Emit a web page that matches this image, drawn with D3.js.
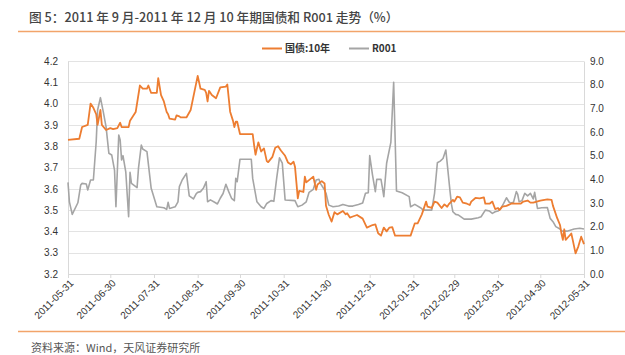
<!DOCTYPE html>
<html><head><meta charset="utf-8">
<script src="https://cdn.jsdelivr.net/npm/d3@7/dist/d3.min.js"></script>
<style>
html,body{margin:0;padding:0;background:#fff;}
svg{display:block;font-family:"Noto Sans CJK SC","Noto Sans",sans-serif;}
</style></head><body>
<svg id="c" width="625" height="355"></svg>
<script>
const titleText = "图 5：2011 年 9 月-2011 年 12 月 10 年期国债和 R001 走势（%）";
const sourceText = "资料来源：Wind，天风证券研究所";
const seriesNames = ["国债:10年", "R001"];
const xTickLabels = ["2011-05-31","2011-06-30","2011-07-31","2011-08-31","2011-09-30","2011-10-31","2011-11-30","2011-12-31","2012-01-31","2012-02-29","2012-03-31","2012-04-30","2012-05-31"];
const leftTicks = [3.2,3.3,3.4,3.5,3.6,3.7,3.8,3.9,4.0,4.1,4.2];
const rightTicks = [0,1,2,3,4,5,6,7,8,9];

const bondDates = ["2011-05-31","2011-06-08","2011-06-10","2011-06-14","2011-06-16","2011-06-18","2011-06-20","2011-06-21","2011-06-23","2011-06-24","2011-06-27","2011-06-30","2011-07-02","2011-07-05","2011-07-07","2011-07-08","2011-07-13","2011-07-14","2011-07-18","2011-07-21","2011-07-23","2011-07-26","2011-07-27","2011-07-29","2011-08-02","2011-08-03","2011-08-05","2011-08-07","2011-08-09","2011-08-10","2011-08-11","2011-08-15","2011-08-16","2011-08-18","2011-08-19","2011-08-23","2011-08-26","2011-08-31","2011-09-02","2011-09-05","2011-09-06","2011-09-07","2011-09-08","2011-09-10","2011-09-13","2011-09-16","2011-09-20","2011-09-21","2011-09-23","2011-09-25","2011-09-26","2011-09-27","2011-09-28","2011-09-30","2011-10-09","2011-10-10","2011-10-11","2011-10-13","2011-10-15","2011-10-17","2011-10-19","2011-10-20","2011-10-23","2011-10-25","2011-10-27","2011-10-29","2011-11-01","2011-11-03","2011-11-05","2011-11-07","2011-11-08","2011-11-09","2011-11-10","2011-11-11","2011-11-14","2011-11-15","2011-11-16","2011-11-21","2011-11-23","2011-11-24","2011-11-27","2011-11-29","2011-11-30","2011-12-02","2011-12-04","2011-12-06","2011-12-08","2011-12-12","2011-12-14","2011-12-15","2011-12-17","2011-12-19","2011-12-22","2011-12-26","2011-12-29","2012-01-02","2012-01-04","2012-01-06","2012-01-08","2012-01-10","2012-01-12","2012-01-14","2012-01-16","2012-01-18","2012-01-29","2012-02-01","2012-02-03","2012-02-06","2012-02-07","2012-02-09","2012-02-10","2012-02-13","2012-02-15","2012-02-17","2012-02-20","2012-02-22","2012-02-24","2012-02-25","2012-02-28","2012-02-29","2012-03-02","2012-03-04","2012-03-06","2012-03-09","2012-03-11","2012-03-12","2012-03-15","2012-03-18","2012-03-21","2012-03-22","2012-03-25","2012-03-27","2012-03-29","2012-03-31","2012-04-01","2012-04-03","2012-04-06","2012-04-10","2012-04-12","2012-04-16","2012-04-18","2012-04-21","2012-04-23","2012-04-25","2012-04-30","2012-05-05","2012-05-08","2012-05-09","2012-05-12","2012-05-14","2012-05-15","2012-05-16","2012-05-17","2012-05-18","2012-05-20","2012-05-22","2012-05-23","2012-05-25","2012-05-27","2012-05-29","2012-05-31"];
const bondValues = [3.83,3.835,3.89,3.90,4.00,3.98,3.95,3.90,3.97,3.90,3.876,3.885,3.88,3.885,3.91,3.89,3.89,3.92,3.96,4.085,4.07,4.07,4.085,4.05,4.05,4.12,4.04,4.01,3.96,3.95,3.93,3.925,3.945,3.94,3.935,3.935,3.97,4.13,4.07,4.065,4.05,4.01,4.06,4.04,4.025,4.076,4.08,4.09,3.962,3.92,3.89,3.915,3.915,3.857,3.857,3.805,3.76,3.818,3.775,3.79,3.73,3.725,3.75,3.793,3.80,3.78,3.755,3.724,3.715,3.727,3.704,3.63,3.555,3.59,3.585,3.657,3.63,3.657,3.595,3.62,3.636,3.625,3.52,3.477,3.446,3.49,3.48,3.496,3.48,3.485,3.465,3.47,3.477,3.46,3.418,3.43,3.433,3.391,3.38,3.418,3.40,3.418,3.42,3.38,3.38,3.438,3.438,3.48,3.50,3.54,3.516,3.51,3.54,3.535,3.51,3.527,3.516,3.527,3.548,3.54,3.563,3.56,3.535,3.53,3.524,3.54,3.557,3.555,3.56,3.53,3.53,3.54,3.505,3.51,3.50,3.516,3.52,3.532,3.53,3.53,3.54,3.545,3.535,3.535,3.545,3.55,3.548,3.52,3.462,3.43,3.39,3.36,3.41,3.36,3.375,3.39,3.36,3.297,3.33,3.375,3.34];

const repoDates = ["2011-05-31","2011-06-01","2011-06-03","2011-06-07","2011-06-09","2011-06-10","2011-06-13","2011-06-14","2011-06-16","2011-06-18","2011-06-20","2011-06-21","2011-06-23","2011-06-25","2011-06-27","2011-06-29","2011-07-01","2011-07-03","2011-07-04","2011-07-06","2011-07-07","2011-07-08","2011-07-09","2011-07-11","2011-07-13","2011-07-14","2011-07-15","2011-07-19","2011-07-20","2011-07-22","2011-07-23","2011-07-26","2011-07-29","2011-08-02","2011-08-07","2011-08-09","2011-08-10","2011-08-11","2011-08-15","2011-08-17","2011-08-18","2011-08-20","2011-08-23","2011-08-25","2011-08-28","2011-08-30","2011-08-31","2011-09-02","2011-09-04","2011-09-06","2011-09-07","2011-09-09","2011-09-12","2011-09-14","2011-09-16","2011-09-18","2011-09-20","2011-09-22","2011-09-24","2011-09-26","2011-09-27","2011-09-28","2011-09-30","2011-10-08","2011-10-09","2011-10-12","2011-10-15","2011-10-17","2011-10-19","2011-10-22","2011-10-24","2011-10-26","2011-10-28","2011-10-30","2011-11-01","2011-11-08","2011-11-10","2011-11-13","2011-11-16","2011-11-18","2011-11-21","2011-11-23","2011-11-25","2011-11-26","2011-11-29","2011-11-30","2011-12-02","2011-12-05","2011-12-09","2011-12-12","2011-12-16","2011-12-19","2011-12-23","2011-12-26","2011-12-28","2011-12-30","2011-12-31","2012-01-02","2012-01-04","2012-01-05","2012-01-08","2012-01-09","2012-01-10","2012-01-12","2012-01-15","2012-01-17","2012-01-19","2012-01-23","2012-01-28","2012-01-29","2012-02-01","2012-02-05","2012-02-07","2012-02-13","2012-02-15","2012-02-17","2012-02-19","2012-02-21","2012-02-23","2012-02-26","2012-02-27","2012-02-28","2012-03-01","2012-03-03","2012-03-07","2012-03-12","2012-03-17","2012-03-19","2012-03-22","2012-03-25","2012-03-27","2012-03-29","2012-03-31","2012-04-02","2012-04-04","2012-04-06","2012-04-08","2012-04-09","2012-04-11","2012-04-13","2012-04-14","2012-04-15","2012-04-17","2012-04-19","2012-04-21","2012-04-23","2012-04-25","2012-04-26","2012-04-28","2012-05-01","2012-05-05","2012-05-07","2012-05-09","2012-05-11","2012-05-14","2012-05-15","2012-05-19","2012-05-24","2012-05-28","2012-05-31"];
const repoValues = [3.87,3.05,2.52,3.01,3.76,3.83,3.80,3.55,3.97,3.97,5.59,6.93,7.45,6.86,6.22,5.10,5.03,4.39,2.84,5.87,5.66,4.82,5.0,4.3,2.42,4.3,3.83,3.65,4.47,5.45,5.28,5.17,3.62,2.84,2.8,2.73,3.03,2.77,2.84,3.05,3.69,3.97,4.25,3.30,3.17,3.4,3.45,3.48,3.62,3.90,3.05,3.13,3.03,2.96,3.2,3.4,3.79,3.48,3.2,3.1,4.04,3.9,4.85,4.85,4.04,3.05,2.84,2.77,2.98,3.1,3.07,4.04,4.91,4.68,3.13,3.1,2.84,2.91,3.05,3.45,3.58,3.97,4.0,3.83,3.55,3.41,2.91,2.84,2.87,2.94,2.87,2.87,2.94,3.0,3.41,3.43,5.0,4.18,3.48,4.0,4.0,3.65,3.27,4.68,5.56,8.1,3.51,3.43,3.27,2.84,2.94,2.8,2.7,2.7,3.41,4.70,4.77,4.88,5.24,3.48,2.94,2.63,2.52,2.49,2.32,2.32,2.38,2.42,2.70,2.66,2.56,2.63,2.66,2.77,2.98,3.22,3.03,3.0,3.03,3.48,3.36,3.05,3.1,3.41,3.3,3.41,3.17,3.45,2.77,2.8,2.81,2.35,2.21,2.0,1.90,1.81,1.81,1.90,1.93,1.90];

const parse = d3.timeParse("%Y-%m-%d");
const bond = bondDates.map((d,i)=>({date:parse(d), v:bondValues[i]}));
const repo = repoDates.map((d,i)=>({date:parse(d), v:repoValues[i]}));

const W=625,H=355, m={l:68,r:41,t:61,b:81};
const svg = d3.select("#c");
const orange="#ED7D31", gray="#A5A5A5";

const x = d3.scaleTime().domain([parse(xTickLabels[0]), parse(xTickLabels[xTickLabels.length-1])]).range([m.l, W-m.r]);
const yL = d3.scaleLinear().domain([3.2,4.2]).range([H-m.b, m.t]);
const yR = d3.scaleLinear().domain([0,9]).range([H-m.b, m.t]);

// title
svg.append("text").attr("x",29).attr("y",22).attr("font-size",12.7).attr("fill","#444").attr("font-weight",500).text(titleText);
svg.append("line").attr("x1",18).attr("x2",625).attr("y1",31.5).attr("y2",31.5).attr("stroke","#F2A46A").attr("stroke-width",1.5);
svg.append("line").attr("x1",18).attr("x2",625).attr("y1",331.5).attr("y2",331.5).attr("stroke","#F2A46A").attr("stroke-width",1.5);
svg.append("text").attr("x",31).attr("y",352).attr("font-size",11).attr("fill","#555").text(sourceText);

// gridlines
svg.append("g").selectAll("line").data(leftTicks).join("line")
  .attr("x1",m.l).attr("x2",W-m.r).attr("y1",d=>Math.round(yL(d))+0.5).attr("y2",d=>Math.round(yL(d))+0.5)
  .attr("stroke","#E3E3E3").attr("stroke-width",1);

// axes
const axL = d3.axisLeft(yL).tickValues(leftTicks).tickFormat(d3.format(".1f")).tickSize(0).tickPadding(10);
const gL = svg.append("g").attr("transform",`translate(${m.l},0)`).call(axL);
const axR = d3.axisRight(yR).tickValues(rightTicks).tickFormat(d3.format(".1f")).tickSize(0).tickPadding(6);
const gR = svg.append("g").attr("transform",`translate(${W-m.r},0)`).call(axR);
const axB = d3.axisBottom(x).tickValues(xTickLabels.map(parse)).tickFormat(d3.timeFormat("%Y-%m-%d")).tickSize(4).tickPadding(2);
const gB = svg.append("g").attr("transform",`translate(0,${H-m.b})`).call(axB);
[gL,gR,gB].forEach(g=>{
  g.select(".domain").attr("stroke","#D9D9D9");
  g.selectAll(".tick line").attr("stroke","#D9D9D9");
  g.selectAll("text").attr("fill","#333").attr("font-size",10).attr("font-family","Liberation Sans, Arial, sans-serif");
});
gB.selectAll("text").attr("text-anchor","end").attr("dx","-0.3em").attr("dy","0.5em").attr("transform","rotate(-45)");

// lines
const lineL = d3.line().x(d=>x(d.date)).y(d=>yL(d.v));
const lineR = d3.line().x(d=>x(d.date)).y(d=>yR(d.v));
svg.append("path").datum(repo).attr("d",lineR).attr("fill","none").attr("stroke",gray).attr("stroke-width",1.6).attr("stroke-linejoin","round");
svg.append("path").datum(bond).attr("d",lineL).attr("fill","none").attr("stroke",orange).attr("stroke-width",1.8).attr("stroke-linejoin","round");

// legend
const leg = svg.append("g");
const legItems = [{name:seriesNames[0],c:orange,x:262},{name:seriesNames[1],c:gray,x:349}];
legItems.forEach(it=>{
  leg.append("line").attr("x1",it.x).attr("x2",it.x+20).attr("y1",48.5).attr("y2",48.5).attr("stroke",it.c).attr("stroke-width",2);
  leg.append("text").attr("x",it.x+23).attr("y",52).attr("font-size",10).attr("font-weight","bold").attr("fill","#333").text(it.name);
});
</script>
</body></html>
